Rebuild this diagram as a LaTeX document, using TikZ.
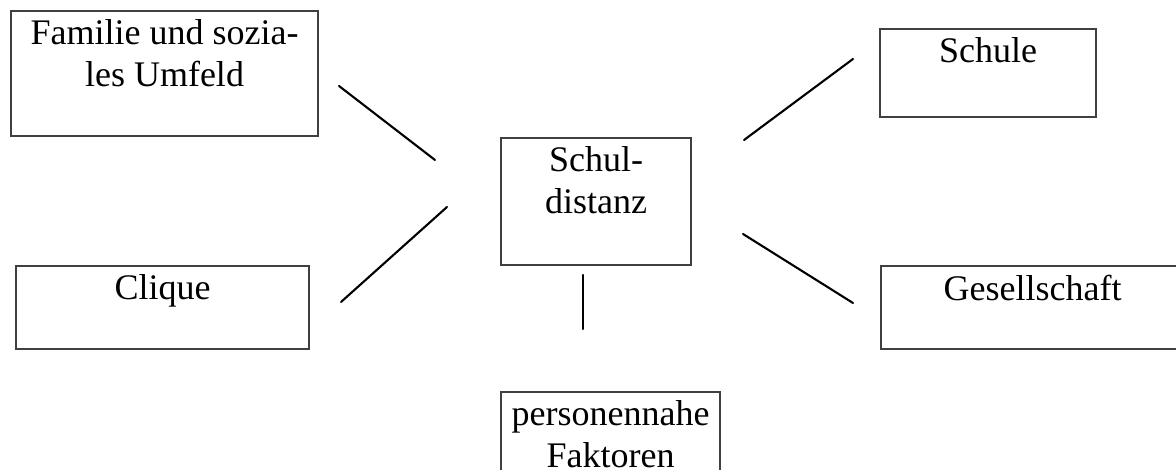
\documentclass[tikz,border=0pt]{standalone}
\usepackage{fontspec}
\setmainfont{Liberation Serif}
\usetikzlibrary{fit,positioning}

\begin{document}
\begin{tikzpicture}[
      x=0.3333pt, y=-0.3333pt,
      frame/.style={
         draw=black!75,
         line width=0.4pt,
         inner sep=0pt},
      txt/.style={
         anchor=north,
         align=center,
         inner sep=3pt,
         font=\fontsize{12}{14}\selectfont},
      link/.style={line width=0.7pt, line cap=round}
      ]
      \useasboundingbox (0,0) rectangle (1176,470);

      % boxes
      \node[frame,fit={(11,11) (318,136)}] (fam) {};
      \node[frame,fit={(501,138) (691,265)}] (dist) {};
      \node[frame,fit={(880,29) (1096,117)}] (schule) {};
      \node[frame,fit={(16,266) (309,349)}] (clique) {};
      \node[frame,fit={(881,266) (1184,349)}] (ges) {};
      \node[frame,fit={(501,392) (720,480)}] (pers) {};

      % texts
      \node[txt] (famtxt) at (fam.north) {Familie und sozia-\\les Umfeld};
      \node[txt] (disttxt) at (dist.north) {Schul-\\distanz};
      \node[txt] (schuletxt) at (schule.north) {Schule};
      \node[txt] (cliquetxt) at (clique.north) {Clique};
      \node[txt] (gestxt) at (ges.north) {Gesellschaft};
      \node[txt] (perstxt) at (pers.north) {personennahe\\Faktoren};

      % line ends
      \coordinate (a1) at (339,86);  \coordinate (a2) at (435,160);
      \coordinate (b1) at (341,302); \coordinate (b2) at (447,207);
      \coordinate (c1) at (744,140); \coordinate (c2) at (853,59);
      \coordinate (d1) at (743,234); \coordinate (d2) at (853,303);
      \coordinate (e1) at (583,275); \coordinate (e2) at (583,329);

    \foreach \i/\j in {a1/a2, b1/b2, c1/c2, d1/d2, e1/e2}
       \draw [link] (\i) -- (\j);

     \end{tikzpicture}
\end{document}
